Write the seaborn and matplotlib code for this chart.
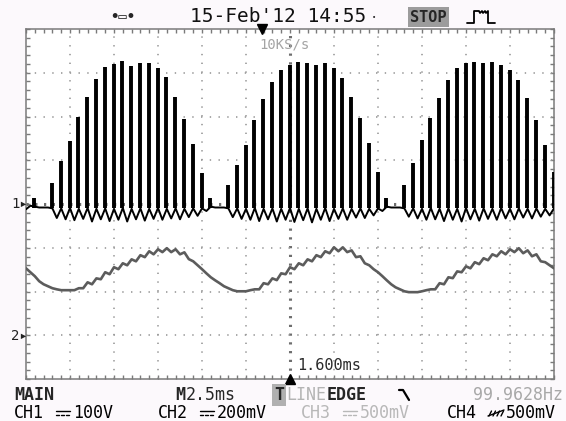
import numpy as np
import pandas as pd
import matplotlib
matplotlib.use("Agg")
import matplotlib.pyplot as plt
from matplotlib.lines import Line2D
import seaborn as sns

# ---- acquisition settings ----
time_per_div_ms = 2.5
n_hdiv, n_vdiv = 12, 8
ch1_volts_per_div = 100.0
ch2_mv_per_div = 200.0
ch1_ground_div = 0.0
ch2_ground_div = -3.0
trigger_offset_ms = 1.6
sample_step_ms = 0.25
pwm_period_ms = 0.5
pwm_first_ms = 0.48
pulse_floor_v = -10.0

# CH1: peak of each PWM pulse (V), one per 0.5 ms switching period
ch1_pulse_peak_v = [
    14, 0, 48, 98, 144, 199, 245, 286, 313, 320,
    327, 315, 322, 322, 311, 290, 245, 194, 137, 70,
    14, 0, 43, 89, 135, 192, 240, 279, 306, 318,
    325, 322, 318, 322, 311, 288, 245, 197, 139, 73,
    14, 0, 43, 94, 146, 197, 242, 283, 311, 322,
    325, 322, 325, 318, 306, 283, 242, 192, 135, 73,
]

# CH1: trace level between pulses (V), every 0.25 ms
ch1_baseline_v = [
    -12, -4, -6, -8, -8, -8, -10, -32, -10, -35,
    -9, -37, -11, -34, -9, -40, -11, -35, -10, -39,
    -11, -36, -9, -40, -11, -35, -10, -38, -11, -34,
    -9, -36, -11, -33, -10, -35, -11, -30, -10, -27,
    -10, -16, -6, -8, -8, -8, -10, -30, -10, -34,
    -11, -36, -9, -39, -11, -35, -10, -40, -11, -36,
    -9, -41, -11, -37, -10, -42, -11, -36, -9, -39,
    -11, -34, -10, -36, -11, -31, -10, -32, -11, -26,
    -10, -16, -6, -8, -8, -8, -10, -29, -10, -33,
    -11, -36, -9, -35, -11, -39, -10, -36, -11, -40,
    -9, -35, -11, -38, -10, -34, -11, -36, -9, -33,
    -11, -35, -10, -31, -11, -33, -10, -29, -11, -26,
    -10,
]

# CH2: trace (mV), every 0.25 ms
ch2_mv = [
    306, 288, 270, 247, 233, 224, 215, 210, 206, 206,
    206, 206, 215, 215, 242, 233, 260, 256, 288, 279,
    311, 302, 329, 320, 347, 338, 366, 357, 384, 370,
    393, 380, 398, 380, 393, 370, 379, 348, 338, 320,
    302, 283, 265, 251, 238, 224, 215, 206, 201, 201,
    201, 206, 210, 210, 238, 233, 260, 252, 283, 279,
    311, 302, 329, 320, 347, 338, 366, 357, 384, 375,
    402, 384, 402, 380, 388, 357, 361, 329, 320, 302,
    288, 270, 251, 233, 219, 210, 201, 197, 197, 197,
    201, 206, 210, 210, 238, 233, 265, 261, 292, 288,
    315, 306, 334, 325, 352, 343, 370, 361, 384, 370,
    393, 380, 398, 375, 388, 361, 370, 338, 334, 320,
    306,
]

# status line: channel name, coupling, volts/div, active
channels = ["CH1", "CH2", "CH3", "CH4"]
channel_scale = ["100V", "200mV", "500mV", "500mV"]
channel_coupling = ["dc", "dc", "dc", "gnd"]
channel_on = [True, True, False, True]

# ---- build tidy frames in screen divisions ----
trace1 = pd.DataFrame({
    "t": np.arange(len(ch1_baseline_v)) * sample_step_ms,
    "div": np.array(ch1_baseline_v) / ch1_volts_per_div + ch1_ground_div,
})
trace2 = pd.DataFrame({
    "t": np.arange(len(ch2_mv)) * sample_step_ms,
    "div": np.array(ch2_mv) / ch2_mv_per_div + ch2_ground_div,
})
pulses = pd.DataFrame({
    "t": pwm_first_ms + np.arange(len(ch1_pulse_peak_v)) * pwm_period_ms,
    "peak": np.array(ch1_pulse_peak_v, dtype=float),
})
pulses = pulses[pulses["peak"] > 0]

W, H = 566, 421
sns.set_theme(style="white")
plt.rcParams["font.family"] = ["DejaVu Sans Mono", "DejaVu Sans"]
plt.rcParams["lines.scale_dashes"] = False

fig = plt.figure(figsize=(W / 100, H / 100), dpi=100)
fig.patch.set_facecolor("#fcf9fc")
left, right, top, bottom = 26, 554, 29, 379
ax = fig.add_axes([left / W, 1 - bottom / H, (right - left) / W, (bottom - top) / H])
ax.set_facecolor("white")

xmax = n_hdiv * time_per_div_ms
ax.set_xlim(0, xmax)
ax.set_ylim(-n_vdiv / 2, n_vdiv / 2)

# dotted graticule: one dot every fifth of a division
grid_color = "#9a9a9a"
for k in range(1, n_hdiv):
    centre = k == n_hdiv // 2
    ax.axvline(k * time_per_div_ms, color="#6e6e6e" if centre else grid_color,
               lw=2.2 if centre else 1.2,
               ls=(0, (1.6, 4.7)) if centre else (0, (1.0, 5.3)),
               dash_capstyle="butt", zorder=1)
for k in range(1, n_vdiv):
    y = -n_vdiv / 2 + k
    centre = y == 0
    ax.axhline(y, color="#6e6e6e" if centre else grid_color,
               lw=2.2 if centre else 1.2,
               ls=(0, (1.6, 4.7)) if centre else (0, (1.0, 5.3)),
               dash_capstyle="butt", zorder=1)

ax.set_xticks(np.arange(0, xmax + 0.01, time_per_div_ms))
ax.set_xticks(np.arange(0, xmax + 0.01, time_per_div_ms / 5), minor=True)
ax.set_yticks(np.arange(-4, 4.01, 1))
ax.set_yticks(np.arange(-4, 4.01, 0.2), minor=True)
ax.tick_params(which="both", direction="in", length=3, width=1, color="#7a7a7a",
               top=True, right=True, bottom=True, left=True,
               labelbottom=False, labelleft=False)
for s in ax.spines.values():
    s.set_color("#7a7a7a")
    s.set_linewidth(1.1)

# CH2 trace
sns.lineplot(data=trace2, x="t", y="div", ax=ax, color="#5c5c5c", lw=1.9,
             zorder=3, legend=False)
# CH1 trace and its PWM pulses
sns.lineplot(data=trace1, x="t", y="div", ax=ax, color="black", lw=1.4,
             zorder=4, legend=False)
ax.vlines(pulses["t"], pulse_floor_v / ch1_volts_per_div + ch1_ground_div,
          pulses["peak"] / ch1_volts_per_div + ch1_ground_div,
          color="black", lw=2.8, zorder=4)
ax.set_xlabel("")
ax.set_ylabel("")

# trigger position marker and centre marker
trig_t = xmax / 2 - trigger_offset_ms
ax.plot([trig_t], [n_vdiv / 2], marker="v", ms=7, color="black", clip_on=False, zorder=6)
ax.plot([xmax / 2], [-n_vdiv / 2], marker="^", ms=7, color="black", clip_on=False, zorder=6)


def ptext(x, y, s, **kw):
    kw.setdefault("va", "center")
    kw.setdefault("ha", "left")
    return fig.text(x / W, 1 - y / H, s, **kw)


def pline(xs, ys, **kw):
    fig.add_artist(Line2D([x / W for x in xs], [1 - y / H for y in ys], **kw))


# header
ptext(123, 17, "•▭•", fontsize=10, ha="center", fontweight="bold")
ptext(190, 17, "15-Feb'12 14:55", fontsize=14, color="#111111")
ptext(374, 18, "•", fontsize=5, ha="center")
ptext(410, 17, "STOP", fontsize=11, fontweight="bold",
      bbox=dict(boxstyle="square,pad=0.15", fc="#9c9c9c", ec="none"))
pline([467, 474, 474, 479, 480, 482, 483, 485, 486, 488, 488, 495],
      [23, 23, 11, 11, 13, 11, 13, 11, 13, 11, 23, 23], color="black", lw=1.3)

ptext(259, 45, "10KS/s", fontsize=10, color="#a4a4a4")
ptext(297, 366, f"{trigger_offset_ms:.3f}ms", fontsize=11, color="#2a2a2a")

# channel ground markers
ptext(11, 204, "1▸", fontsize=10, color="#222222")
ptext(11, 336, "2▸", fontsize=10, color="#222222")

# status rows
fs = 12
ptext(14, 395, "MAIN", fontsize=fs, fontweight="bold")
ptext(175, 395, "M", fontsize=fs, fontweight="bold")
ptext(186, 395, f"{time_per_div_ms}ms", fontsize=fs)
ptext(274, 395, "T", fontsize=fs, fontweight="bold",
      bbox=dict(boxstyle="square,pad=0.1", fc="#b0b0b0", ec="none"))
ptext(286, 395, "LINE", fontsize=fs, color="#b4b4b4")
ptext(327, 395, "EDGE", fontsize=fs, fontweight="bold")
pline([399, 403, 409], [390, 390, 400], color="black", lw=1.6)
ptext(563, 395, "99.9628Hz", fontsize=fs, color="#a8a8a8", ha="right")

# channel row: name, coupling symbol (drawn), scale
row_y = 413
name_x = [14, 158, 301, 447]
for x0, name, scale, coup, on in zip(name_x, channels, channel_scale,
                                      channel_coupling, channel_on):
    col = "black" if on else "#b8b8b8"
    ptext(x0, row_y, name, fontsize=fs, color=col)
    sx = x0 + 42
    if coup == "dc":
        # solid line over dashed line
        pline([sx, sx + 14], [row_y - 2, row_y - 2], color=col, lw=1.0)
        for d in range(3):
            pline([sx + d * 5, sx + d * 5 + 3], [row_y + 1.5, row_y + 1.5],
                  color=col, lw=1.0)
    else:
        # hatched slant symbol
        pline([sx - 1, sx + 15], [row_y + 3, row_y - 3], color=col, lw=1.0)
        for d in range(4):
            pline([sx + d * 4, sx + d * 4 + 2.5], [row_y + 3, row_y - 2],
                  color=col, lw=1.0)
    ptext(sx + 17, row_y, scale, fontsize=fs, color=col)

fig.savefig("out.png", dpi=100, facecolor=fig.get_facecolor())
